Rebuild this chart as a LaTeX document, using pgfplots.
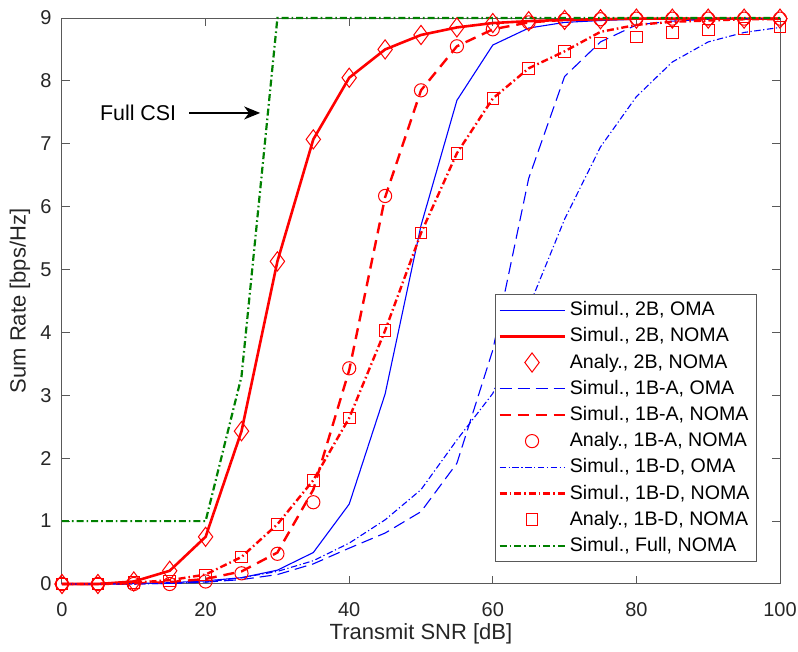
\documentclass[border=0pt]{standalone}
\usepackage{fontspec}
\setmainfont{Liberation Sans}
\usepackage{pgfplots}
\pgfplotsset{compat=1.18}
\usetikzlibrary{arrows.meta}
\definecolor{mred}{rgb}{1,0,0}
\definecolor{mblue}{rgb}{0,0,1}
\definecolor{mgreen}{rgb}{0,0.5,0}
\begin{document}
\begin{tikzpicture}
\useasboundingbox (-31pt,-34pt) rectangle (368pt,292pt);
\begin{axis}[
  scale only axis, width=359pt, height=283pt,
  xmin=0, xmax=100, ymin=0, ymax=9,
  xtick={0,20,...,100}, ytick={0,1,...,9},
  tick align=inside, major tick length=4pt,
  axis line style={black!65, line width=0.5pt},
  every tick/.style={black!65, line width=0.5pt},
  /pgf/number format/assume math mode=true,
  tick label style={font=\fontsize{10}{12}\selectfont, text=black!85},
  xticklabel style={yshift=-5.5pt},
  yticklabel style={xshift=-1.7pt},
  xlabel={Transmit SNR [dB]}, ylabel={Sum Rate [bps/Hz]},
  label style={font=\fontsize{11}{13}\selectfont, text=black!85},
  xlabel style={at={(axis description cs:0.5,-0.088)}, anchor=center},
  ylabel style={at={(axis description cs:-0.0585,0.5)}, anchor=center},
  clip=false,
  legend cell align=left,
  legend image code/.code={\draw[mark repeat=2,mark phase=2,#1] plot coordinates {(0pt,0pt) (16.25pt,0pt) (32.5pt,0pt)};},
  legend style={at={(0.968,0.039)}, anchor=south east,
    font=\fontsize{9.8}{11}\selectfont, draw=black!65, line width=0.5pt,
    inner xsep=1.5pt, inner ysep=1.2pt, row sep=0pt,
    nodes={inner sep=2pt, text height=7.3pt, text depth=1.8pt}},
]
% Simul 2B OMA
\addplot[mblue, line width=0.55pt, mark=none] coordinates {
(0,0)(5,0)(10,0.01)(15,0.02)(20,0.05)(25,0.1)(30,0.22)(35,0.5)(40,1.27)(45,3.02)(50,5.7)(55,7.69)(60,8.57)(65,8.84)(70,8.93)(75,8.96)(80,8.98)(85,8.99)(90,8.99)(95,8.99)(100,8.99)};
\addlegendentry{Simul., 2B, OMA}
% Simul 2B NOMA
\addplot[mred, line width=1.3pt, mark=none] coordinates {
(0,0)(5,0)(10,0.04)(15,0.21)(20,0.75)(25,2.43)(30,5.13)(35,7.07)(40,8.05)(45,8.5)(50,8.73)(55,8.85)(60,8.92)(65,8.95)(70,8.97)(75,8.98)(80,8.99)(85,8.99)(90,8.99)(95,8.99)(100,8.99)};
\addlegendentry{Simul., 2B, NOMA}
% Analy 2B NOMA
\addplot[mred, only marks, mark=diamond, mark size=4.8pt, mark options={line width=0.5pt}] coordinates {
(0,0)(5,0)(10,0.04)(15,0.21)(20,0.75)(25,2.43)(30,5.13)(35,7.07)(40,8.05)(45,8.5)(50,8.73)(55,8.85)(60,8.92)(65,8.95)(70,8.97)(75,8.98)(80,8.99)(85,8.99)(90,8.99)(95,8.99)(100,8.99)};
\addlegendentry{Analy., 2B, NOMA}
% Simul 1B-A OMA
\addplot[mblue, line width=0.55pt, dash pattern=on 6pt off 3pt, mark=none] coordinates {
(0,0)(5,0)(10,0)(15,0.01)(20,0.03)(25,0.07)(30,0.15)(35,0.32)(40,0.57)(45,0.81)(50,1.15)(55,1.92)(60,3.72)(65,6.45)(70,8.07)(75,8.62)(80,8.89)(85,8.95)(90,8.98)(95,8.99)(100,8.99)};
\addlegendentry{Simul., 1B-A, OMA}
% Simul 1B-A NOMA
\addplot[mred, line width=1.2pt, dash pattern=on 5.5pt off 3.5pt, mark=none] coordinates {
(0,0)(5,0)(10,0.01)(15,0.03)(20,0.08)(25,0.2)(30,0.5)(35,1.5)(40,3.4)(45,6.15)(50,7.85)(55,8.55)(60,8.82)(65,8.93)(70,8.97)(75,8.98)(80,8.99)(85,8.99)(90,8.99)(95,8.99)(100,8.99)};
\addlegendentry{Simul., 1B-A, NOMA}
% Analy 1B-A NOMA
\addplot[mred, only marks, mark=o, mark size=3.3pt, mark options={line width=0.5pt}] coordinates {
(0,0)(5,0)(10,0)(15,0)(20,0.04)(25,0.17)(30,0.48)(35,1.3)(40,3.43)(45,6.17)(50,7.85)(55,8.55)(60,8.82)(65,8.93)(70,8.97)(75,8.98)(80,8.99)(85,8.99)(90,8.99)(95,8.99)(100,8.99)};
\addlegendentry{Analy., 1B-A, NOMA}
% Simul 1B-D OMA
\addplot[mblue, line width=0.55pt, dash pattern=on 3.2pt off 1.3pt on 0.6pt off 1.3pt, mark=none] coordinates {
(0,0)(5,0)(10,0)(15,0.01)(20,0.03)(25,0.1)(30,0.2)(35,0.37)(40,0.65)(45,1.02)(50,1.5)(55,2.29)(60,3.03)(65,4.4)(70,5.8)(75,6.95)(80,7.75)(85,8.3)(90,8.62)(95,8.77)(100,8.85)};
\addlegendentry{Simul., 1B-D, OMA}
% Simul 1B-D NOMA
\addplot[mred, line width=1.2pt, dash pattern=on 3.5pt off 1.5pt on 0.8pt off 1.5pt, mark=none] coordinates {
(0,0)(5,0)(10,0.02)(15,0.06)(20,0.15)(25,0.43)(30,0.95)(35,1.65)(40,2.64)(45,4.03)(50,5.58)(55,6.85)(60,7.72)(65,8.2)(70,8.47)(75,8.78)(80,8.89)(85,8.94)(90,8.96)(95,8.98)(100,8.98)};
\addlegendentry{Simul., 1B-D, NOMA}
% Analy 1B-D NOMA
\addplot[mred, only marks, mark=square, mark size=2.9pt, mark options={line width=0.5pt}] coordinates {
(0,0)(5,0)(10,0.02)(15,0.05)(20,0.14)(25,0.43)(30,0.95)(35,1.65)(40,2.64)(45,4.03)(50,5.58)(55,6.85)(60,7.72)(65,8.2)(70,8.47)(75,8.6)(80,8.7)(85,8.77)(90,8.81)(95,8.83)(100,8.86)};
\addlegendentry{Analy., 1B-D, NOMA}
% Simul Full NOMA
\addplot[mgreen, line width=1.1pt, dash pattern=on 3.5pt off 1.5pt on 0.8pt off 1.5pt, mark=none] coordinates {
(0,1)(5,1)(10,1)(15,1)(20,1)(25,3.3)(30,9)(35,9)(40,9)(45,9)(50,9)(55,9)(60,9)(65,9)(70,9)(75,9)(80,9)(85,9)(90,9)(95,9)(100,9)};
\addlegendentry{Simul., Full, NOMA}
\draw[black, line width=0.6pt, -{Stealth[length=8pt,width=6.5pt,inset=2.4pt]}] (axis cs:17.7,7.49) -- (axis cs:27.6,7.49);
\node[font=\fontsize{10.7}{12}\selectfont, anchor=center] at (axis cs:10.6,7.49) {Full CSI};
\end{axis}
\end{tikzpicture}
\end{document}
